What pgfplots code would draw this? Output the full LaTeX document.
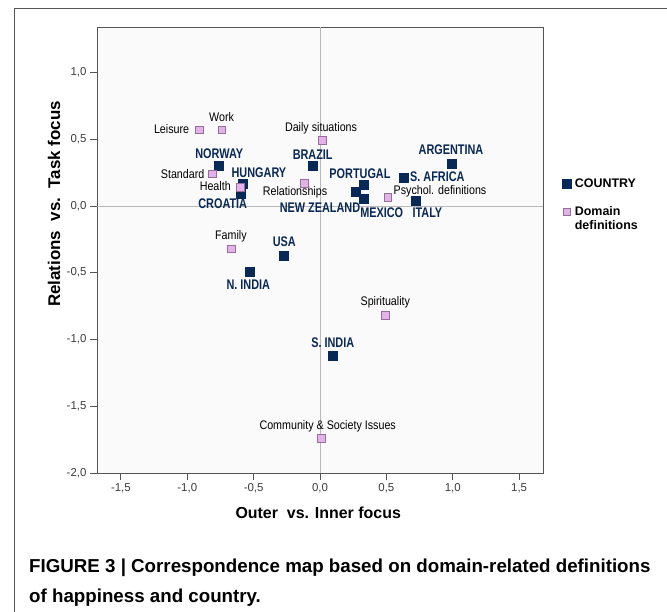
\documentclass[border=0pt]{standalone}
\usepackage{fontspec}
\setmainfont{Liberation Sans}
\newfontfamily\condfont[FakeStretch=0.78]{Liberation Sans}
\newfontfamily\domfont[FakeStretch=0.86]{Liberation Sans}
\usepackage{pgfplots}
\pgfplotsset{compat=1.18}

\definecolor{navy}{RGB}{8,40,86}
\definecolor{pinkfill}{RGB}{228,178,232}
\definecolor{pinkedge}{RGB}{150,110,155}
\definecolor{framegray}{RGB}{85,85,85}
\definecolor{ticktext}{RGB}{60,60,60}

% label helpers: node centre = centre of the capitals
\newcommand{\ctry}[3]{\node[inner sep=0pt, text height=10bp, text depth=0pt,
    font=\condfont\bfseries\fontsize{14}{14}\selectfont, text=navy] at (axis cs:#1,#2) {#3};}
\newcommand{\dom}[3]{\node[inner sep=0pt, text height=8.9bp, text depth=0pt,
    font=\domfont\fontsize{12.5}{12.5}\selectfont] at (axis cs:#1,#2) {#3};}

\begin{document}
\begin{tikzpicture}
\useasboundingbox (0,0) rectangle (667bp,612bp);
\clip (0,0) rectangle (667bp,612bp);
\draw[framegray, line width=0.9bp] (14bp,-10bp) -- (14bp,604bp) -- (680bp,604bp);
\begin{axis}[
    at={(97bp,139bp)}, anchor=south west,
    width=446bp, height=446bp, scale only axis,
    xmin=-1.68, xmax=1.68,
    ymin=-2, ymax=1.34,
    clip=false,
    axis background/.style={fill=black!2},
    axis line style={framegray, line width=0.8bp},
    xtick={-1.5,-1,...,1.5},
    ytick={-2,-1.5,...,1},
    xtick pos=left, ytick pos=left,
    tick align=outside,
    major tick length=7bp,
    tick style={framegray, line width=0.8bp},
    ticklabel style={font=\fontsize{11.5}{12}\selectfont, text=ticktext},
    /pgf/number format/fixed,
    /pgf/number format/fixed zerofill,
    /pgf/number format/precision=1,
    /pgf/number format/use comma,
    /pgf/number format/assume math mode=true,
    xlabel={Outer\ \ vs. Inner focus},
    x label style={at={(axis description cs:0.496,-0.0897)}, anchor=center,
        font=\bfseries\fontsize{16}{16}\selectfont},
    ylabel={Relations\ \ vs.\ \ Task focus},
    y label style={at={(axis description cs:-0.0964,0.603)}, anchor=center,
        font=\bfseries\fontsize{17}{17}\selectfont},
    legend style={at={(axis description cs:1.043,0.660)}, anchor=north west,
        draw=none, fill=none, inner sep=0pt,
        nodes={inner xsep=3.5bp, inner ysep=0pt},
        font=\bfseries\fontsize{12.5}{14}\selectfont,
        row sep=17bp, cells={anchor=west}},
    legend cell align=left,
    legend image code/.code={\draw[#1] plot coordinates {(0bp,0bp)};},
]
\draw[gray!55, line width=0.7bp] (axis cs:0,-2) -- (axis cs:0,1.34);
\draw[gray!55, line width=0.7bp] (axis cs:-1.68,0) -- (axis cs:1.68,0);

\addplot[only marks, mark=square*, mark size=4.5bp,
    mark options={fill=navy, draw=navy}] coordinates {
    (-0.76,0.305) (-0.58,0.17) (-0.60,0.095) (-0.055,0.30)
    (0.33,0.16) (0.27,0.107) (0.33,0.055) (0.63,0.21)
    (0.99,0.32) (0.72,0.037) (-0.27,-0.37) (-0.53,-0.49)
    (0.096,-1.125)
};
\addlegendentry{COUNTRY}

\addplot[only marks, mark=square*, mark size=3.8bp,
    mark options={fill=pinkfill, draw=pinkedge, line width=0.6bp}] coordinates {
    (-0.91,0.57) (-0.74,0.57) (0.017,0.49) (-0.81,0.24)
    (-0.60,0.14) (-0.12,0.17) (0.51,0.065) (-0.67,-0.32)
    (0.49,-0.82) (0.008,-1.74)
};
\addlegendentry{\begin{tabular}[t]{@{}l@{}}Domain\\definitions\end{tabular}}

\ctry{-0.759}{0.396}{NORWAY}
\ctry{-0.460}{0.249}{HUNGARY}
\ctry{-0.733}{0.017}{CROATIA}
\ctry{-0.055}{0.384}{BRAZIL}
\ctry{0.301}{0.246}{PORTUGAL}
\ctry{0.0}{-0.011}{NEW ZEALAND}
\ctry{0.465}{-0.049}{MEXICO}
\ctry{0.884}{0.222}{S. AFRICA}
\ctry{0.987}{0.422}{ARGENTINA}
\ctry{0.809}{-0.049}{ITALY}
\ctry{-0.269}{-0.266}{USA}
\ctry{-0.540}{-0.591}{N. INDIA}
\ctry{0.096}{-1.022}{S. INDIA}

\dom{-1.118}{0.572}{Leisure}
\dom{-0.741}{0.662}{Work}
\dom{0.008}{0.594}{Daily situations}
\dom{-1.035}{0.242}{Standard}
\dom{-0.789}{0.146}{Health}
\dom{-0.188}{0.111}{Relationships}
\dom{0.904}{0.122}{Psychol. definitions}
\dom{-0.671}{-0.221}{Family}
\dom{0.492}{-0.714}{Spirituality}
\dom{0.058}{-1.639}{Community \& Society Issues}
\end{axis}
\node[anchor=north west, inner sep=0pt, align=left,
    font=\bfseries\fontsize{18.8}{30}\selectfont] at (29bp,53.5bp)
    {FIGURE 3 | Correspondence map based on domain-related definitions\\of happiness and country.};
\end{tikzpicture}
\end{document}
